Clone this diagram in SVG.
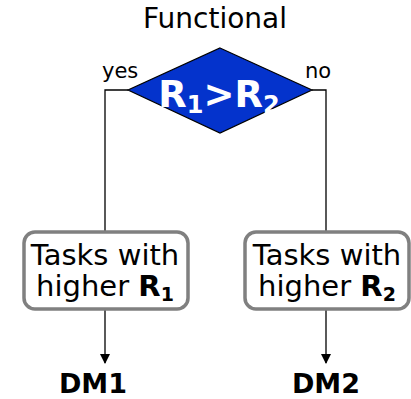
<svg xmlns="http://www.w3.org/2000/svg" width="411" height="399" viewBox="0 0 411 399">
<style>
text{font-family:"DejaVu Sans","Verdana",sans-serif;fill:#000}
.lbl{font-size:21px}
.box{fill:#fff;stroke:#808080;stroke-width:3.5}
.bt{font-size:29px;text-anchor:middle}
.dm{font-size:27px;font-weight:bold;text-anchor:middle}
.ln{stroke:#000;stroke-width:1.3;fill:none}
</style>
<defs>
<marker id="ah" markerWidth="10" markerHeight="10" refX="9" refY="5" orient="auto" markerUnits="userSpaceOnUse" viewBox="0 0 10 10">
<path d="M0,0 L10,5 L0,10 Z" fill="#000"/>
</marker>
</defs>
<text x="215" y="28" font-size="28" text-anchor="middle">Functional</text>
<g id="connectors">
<path class="ln" d="M128,90 H105 V231"/>
<path class="ln" d="M312,90 H326 V231"/>
<path class="ln" d="M105,310 V363" marker-end="url(#ah)"/>
<path class="ln" d="M326,310 V363" marker-end="url(#ah)"/>
</g>
<g id="decision">
<polygon points="220,48 312,90 220,133 128,90" fill="#0433CC" stroke="#000" stroke-width="1.2"/>
<text x="219" y="107" font-size="37" font-weight="bold" text-anchor="middle" fill="#fff" style="fill:#fff">R<tspan font-size="24" dy="6">1</tspan><tspan dy="-6">&gt;R</tspan><tspan font-size="24" dy="6">2</tspan></text>
</g>
<text class="lbl" x="102" y="78">yes</text>
<text class="lbl" x="305" y="78">no</text>
<g id="box1">
<rect class="box" x="24" y="232" width="164" height="77" rx="11"/>
<text class="bt" x="105" y="265">Tasks with</text>
<text class="bt" x="105" y="296">higher <tspan font-weight="bold">R</tspan><tspan font-weight="bold" font-size="19" dy="5">1</tspan></text>
</g>
<g id="box2">
<rect class="box" x="245" y="232" width="164" height="77" rx="11"/>
<text class="bt" x="327" y="265">Tasks with</text>
<text class="bt" x="327" y="296">higher <tspan font-weight="bold">R</tspan><tspan font-weight="bold" font-size="19" dy="5">2</tspan></text>
</g>
<g id="dm1"><text class="dm" x="93" y="393">DM1</text></g>
<g id="dm2"><text class="dm" x="326" y="393">DM2</text></g>
</svg>
